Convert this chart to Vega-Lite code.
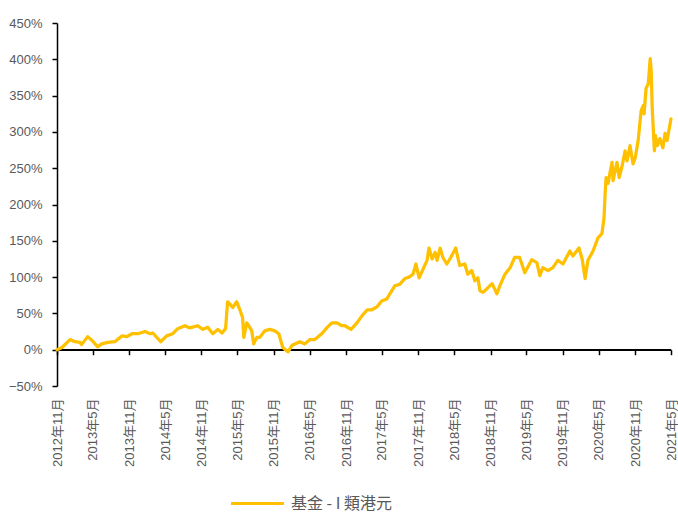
{
  "$schema": "https://vega.github.io/schema/vega-lite/v6.json",
  "autosize": {"type": "none"},
  "padding": {"left": 57, "top": 23, "right": 7, "bottom": 127},
  "width": 614,
  "height": 363,
  "background": "white",
  "config": {
    "view": {"stroke": null},
    "axisY": {
      "labelOverlap": false,
      "labelFlush": false,
      "grid": false,
      "domainColor": "black",
      "domainWidth": 1.5,
      "tickColor": "black",
      "tickWidth": 1.5,
      "tickSize": 5,
      "labelPadding": 10,
      "labelFont": "Liberation Sans",
      "labelFontSize": 13,
      "labelColor": "#595959"
    }
  },
  "data": {
    "values": [
      {"d": "2012-11-01", "v": 0.00, "s": "基金 - I 類港元"},
      {"d": "2012-11-26", "v": 0.03, "s": "基金 - I 類港元"},
      {"d": "2013-01-06", "v": 0.14, "s": "基金 - I 類港元"},
      {"d": "2013-01-30", "v": 0.11, "s": "基金 - I 類港元"},
      {"d": "2013-02-25", "v": 0.10, "s": "基金 - I 類港元"},
      {"d": "2013-03-05", "v": 0.07, "s": "基金 - I 類港元"},
      {"d": "2013-04-05", "v": 0.18, "s": "基金 - I 類港元"},
      {"d": "2013-04-30", "v": 0.12, "s": "基金 - I 類港元"},
      {"d": "2013-05-25", "v": 0.04, "s": "基金 - I 類港元"},
      {"d": "2013-06-15", "v": 0.08, "s": "基金 - I 類港元"},
      {"d": "2013-07-15", "v": 0.10, "s": "基金 - I 類港元"},
      {"d": "2013-08-20", "v": 0.11, "s": "基金 - I 類港元"},
      {"d": "2013-09-25", "v": 0.19, "s": "基金 - I 類港元"},
      {"d": "2013-10-20", "v": 0.18, "s": "基金 - I 類港元"},
      {"d": "2013-11-15", "v": 0.22, "s": "基金 - I 類港元"},
      {"d": "2013-12-15", "v": 0.22, "s": "基金 - I 類港元"},
      {"d": "2014-01-20", "v": 0.25, "s": "基金 - I 類港元"},
      {"d": "2014-02-14", "v": 0.22, "s": "基金 - I 類港元"},
      {"d": "2014-02-28", "v": 0.23, "s": "基金 - I 類港元"},
      {"d": "2014-04-09", "v": 0.11, "s": "基金 - I 類港元"},
      {"d": "2014-05-09", "v": 0.19, "s": "基金 - I 類港元"},
      {"d": "2014-06-09", "v": 0.22, "s": "基金 - I 類港元"},
      {"d": "2014-07-04", "v": 0.29, "s": "基金 - I 類港元"},
      {"d": "2014-08-09", "v": 0.33, "s": "基金 - I 類港元"},
      {"d": "2014-09-03", "v": 0.30, "s": "基金 - I 類港元"},
      {"d": "2014-10-13", "v": 0.33, "s": "基金 - I 類港元"},
      {"d": "2014-11-08", "v": 0.28, "s": "基金 - I 類港元"},
      {"d": "2014-12-03", "v": 0.31, "s": "基金 - I 類港元"},
      {"d": "2014-12-28", "v": 0.22, "s": "基金 - I 類港元"},
      {"d": "2015-01-23", "v": 0.28, "s": "基金 - I 類港元"},
      {"d": "2015-02-13", "v": 0.23, "s": "基金 - I 類港元"},
      {"d": "2015-03-03", "v": 0.29, "s": "基金 - I 類港元"},
      {"d": "2015-03-13", "v": 0.66, "s": "基金 - I 類港元"},
      {"d": "2015-03-28", "v": 0.62, "s": "基金 - I 類港元"},
      {"d": "2015-04-08", "v": 0.58, "s": "基金 - I 類港元"},
      {"d": "2015-04-28", "v": 0.66, "s": "基金 - I 類港元"},
      {"d": "2015-05-13", "v": 0.56, "s": "基金 - I 類港元"},
      {"d": "2015-05-28", "v": 0.44, "s": "基金 - I 類港元"},
      {"d": "2015-06-03", "v": 0.17, "s": "基金 - I 類港元"},
      {"d": "2015-06-18", "v": 0.37, "s": "基金 - I 類港元"},
      {"d": "2015-06-28", "v": 0.33, "s": "基金 - I 類港元"},
      {"d": "2015-07-13", "v": 0.26, "s": "基金 - I 類港元"},
      {"d": "2015-07-23", "v": 0.08, "s": "基金 - I 類港元"},
      {"d": "2015-08-08", "v": 0.17, "s": "基金 - I 類港元"},
      {"d": "2015-08-23", "v": 0.17, "s": "基金 - I 類港元"},
      {"d": "2015-09-17", "v": 0.26, "s": "基金 - I 類港元"},
      {"d": "2015-10-12", "v": 0.28, "s": "基金 - I 類港元"},
      {"d": "2015-11-07", "v": 0.26, "s": "基金 - I 類港元"},
      {"d": "2015-11-27", "v": 0.22, "s": "基金 - I 類港元"},
      {"d": "2015-12-17", "v": 0.03, "s": "基金 - I 類港元"},
      {"d": "2016-01-12", "v": -0.03, "s": "基金 - I 類港元"},
      {"d": "2016-02-02", "v": 0.06, "s": "基金 - I 類港元"},
      {"d": "2016-03-12", "v": 0.11, "s": "基金 - I 類港元"},
      {"d": "2016-04-07", "v": 0.08, "s": "基金 - I 類港元"},
      {"d": "2016-05-02", "v": 0.14, "s": "基金 - I 類港元"},
      {"d": "2016-05-27", "v": 0.14, "s": "基金 - I 類港元"},
      {"d": "2016-07-01", "v": 0.22, "s": "基金 - I 類港元"},
      {"d": "2016-07-26", "v": 0.30, "s": "基金 - I 類港元"},
      {"d": "2016-08-21", "v": 0.37, "s": "基金 - I 類港元"},
      {"d": "2016-09-16", "v": 0.37, "s": "基金 - I 類港元"},
      {"d": "2016-10-11", "v": 0.33, "s": "基金 - I 類港元"},
      {"d": "2016-10-26", "v": 0.33, "s": "基金 - I 類港元"},
      {"d": "2016-11-26", "v": 0.28, "s": "基金 - I 類港元"},
      {"d": "2016-12-26", "v": 0.37, "s": "基金 - I 類港元"},
      {"d": "2017-01-21", "v": 0.47, "s": "基金 - I 類港元"},
      {"d": "2017-02-16", "v": 0.55, "s": "基金 - I 類港元"},
      {"d": "2017-03-11", "v": 0.55, "s": "基金 - I 類港元"},
      {"d": "2017-04-06", "v": 0.59, "s": "基金 - I 類港元"},
      {"d": "2017-04-30", "v": 0.67, "s": "基金 - I 類港元"},
      {"d": "2017-05-26", "v": 0.70, "s": "基金 - I 類港元"},
      {"d": "2017-06-10", "v": 0.77, "s": "基金 - I 類港元"},
      {"d": "2017-07-05", "v": 0.88, "s": "基金 - I 類港元"},
      {"d": "2017-07-30", "v": 0.90, "s": "基金 - I 類港元"},
      {"d": "2017-08-25", "v": 0.98, "s": "基金 - I 類港元"},
      {"d": "2017-09-15", "v": 1.00, "s": "基金 - I 類港元"},
      {"d": "2017-10-05", "v": 1.04, "s": "基金 - I 類港元"},
      {"d": "2017-10-20", "v": 1.18, "s": "基金 - I 類港元"},
      {"d": "2017-11-05", "v": 0.99, "s": "基金 - I 類港元"},
      {"d": "2017-11-25", "v": 1.11, "s": "基金 - I 類港元"},
      {"d": "2017-12-15", "v": 1.23, "s": "基金 - I 類港元"},
      {"d": "2017-12-25", "v": 1.40, "s": "基金 - I 類港元"},
      {"d": "2018-01-10", "v": 1.25, "s": "基金 - I 類港元"},
      {"d": "2018-01-25", "v": 1.34, "s": "基金 - I 類港元"},
      {"d": "2018-02-04", "v": 1.23, "s": "基金 - I 類港元"},
      {"d": "2018-02-19", "v": 1.40, "s": "基金 - I 類港元"},
      {"d": "2018-03-05", "v": 1.27, "s": "基金 - I 類港元"},
      {"d": "2018-03-25", "v": 1.18, "s": "基金 - I 類港元"},
      {"d": "2018-04-14", "v": 1.27, "s": "基金 - I 類港元"},
      {"d": "2018-05-09", "v": 1.40, "s": "基金 - I 類港元"},
      {"d": "2018-05-29", "v": 1.16, "s": "基金 - I 類港元"},
      {"d": "2018-06-24", "v": 1.18, "s": "基金 - I 類港元"},
      {"d": "2018-07-09", "v": 1.04, "s": "基金 - I 類港元"},
      {"d": "2018-07-29", "v": 1.09, "s": "基金 - I 類港元"},
      {"d": "2018-08-14", "v": 0.95, "s": "基金 - I 類港元"},
      {"d": "2018-08-29", "v": 0.99, "s": "基金 - I 類港元"},
      {"d": "2018-09-09", "v": 0.81, "s": "基金 - I 類港元"},
      {"d": "2018-09-24", "v": 0.79, "s": "基金 - I 類港元"},
      {"d": "2018-10-14", "v": 0.84, "s": "基金 - I 類港元"},
      {"d": "2018-11-09", "v": 0.91, "s": "基金 - I 類港元"},
      {"d": "2018-12-03", "v": 0.77, "s": "基金 - I 類港元"},
      {"d": "2018-12-18", "v": 0.88, "s": "基金 - I 類港元"},
      {"d": "2019-01-13", "v": 1.04, "s": "基金 - I 類港元"},
      {"d": "2019-02-08", "v": 1.13, "s": "基金 - I 類港元"},
      {"d": "2019-03-03", "v": 1.27, "s": "基金 - I 類港元"},
      {"d": "2019-03-28", "v": 1.27, "s": "基金 - I 類港元"},
      {"d": "2019-04-23", "v": 1.06, "s": "基金 - I 類港元"},
      {"d": "2019-05-28", "v": 1.24, "s": "基金 - I 類港元"},
      {"d": "2019-06-23", "v": 1.20, "s": "基金 - I 類港元"},
      {"d": "2019-07-08", "v": 1.02, "s": "基金 - I 類港元"},
      {"d": "2019-07-23", "v": 1.13, "s": "基金 - I 類港元"},
      {"d": "2019-08-18", "v": 1.09, "s": "基金 - I 類港元"},
      {"d": "2019-09-12", "v": 1.13, "s": "基金 - I 類港元"},
      {"d": "2019-10-07", "v": 1.23, "s": "基金 - I 類港元"},
      {"d": "2019-11-02", "v": 1.18, "s": "基金 - I 類港元"},
      {"d": "2019-12-07", "v": 1.36, "s": "基金 - I 類港元"},
      {"d": "2019-12-22", "v": 1.29, "s": "基金 - I 類港元"},
      {"d": "2020-01-22", "v": 1.40, "s": "基金 - I 類港元"},
      {"d": "2020-02-07", "v": 1.25, "s": "基金 - I 類港元"},
      {"d": "2020-02-22", "v": 0.98, "s": "基金 - I 類港元"},
      {"d": "2020-03-07", "v": 1.23, "s": "基金 - I 類港元"},
      {"d": "2020-04-02", "v": 1.36, "s": "基金 - I 類港元"},
      {"d": "2020-04-27", "v": 1.54, "s": "基金 - I 類港元"},
      {"d": "2020-05-17", "v": 1.60, "s": "基金 - I 類港元"},
      {"d": "2020-05-27", "v": 1.80, "s": "基金 - I 類港元"},
      {"d": "2020-06-02", "v": 2.15, "s": "基金 - I 類港元"},
      {"d": "2020-06-07", "v": 2.37, "s": "基金 - I 類港元"},
      {"d": "2020-06-17", "v": 2.29, "s": "基金 - I 類港元"},
      {"d": "2020-06-27", "v": 2.44, "s": "基金 - I 類港元"},
      {"d": "2020-07-07", "v": 2.58, "s": "基金 - I 類港元"},
      {"d": "2020-07-12", "v": 2.33, "s": "基金 - I 類港元"},
      {"d": "2020-08-01", "v": 2.58, "s": "基金 - I 類港元"},
      {"d": "2020-08-12", "v": 2.37, "s": "基金 - I 類港元"},
      {"d": "2020-08-27", "v": 2.53, "s": "基金 - I 類港元"},
      {"d": "2020-09-11", "v": 2.74, "s": "基金 - I 類港元"},
      {"d": "2020-09-21", "v": 2.60, "s": "基金 - I 類港元"},
      {"d": "2020-10-06", "v": 2.81, "s": "基金 - I 類港元"},
      {"d": "2020-10-21", "v": 2.56, "s": "基金 - I 類港元"},
      {"d": "2020-11-01", "v": 2.64, "s": "基金 - I 類港元"},
      {"d": "2020-11-16", "v": 2.88, "s": "基金 - I 類港元"},
      {"d": "2020-12-01", "v": 3.29, "s": "基金 - I 類港元"},
      {"d": "2020-12-11", "v": 3.36, "s": "基金 - I 類港元"},
      {"d": "2020-12-16", "v": 3.25, "s": "基金 - I 類港元"},
      {"d": "2020-12-26", "v": 3.60, "s": "基金 - I 類港元"},
      {"d": "2021-01-06", "v": 3.66, "s": "基金 - I 類港元"},
      {"d": "2021-01-16", "v": 4.01, "s": "基金 - I 類港元"},
      {"d": "2021-01-21", "v": 3.84, "s": "基金 - I 類港元"},
      {"d": "2021-01-26", "v": 3.33, "s": "基金 - I 類港元"},
      {"d": "2021-02-06", "v": 2.74, "s": "基金 - I 類港元"},
      {"d": "2021-02-11", "v": 2.95, "s": "基金 - I 類港元"},
      {"d": "2021-02-21", "v": 2.81, "s": "基金 - I 類港元"},
      {"d": "2021-03-06", "v": 2.91, "s": "基金 - I 類港元"},
      {"d": "2021-03-21", "v": 2.78, "s": "基金 - I 類港元"},
      {"d": "2021-04-01", "v": 2.98, "s": "基金 - I 類港元"},
      {"d": "2021-04-11", "v": 2.88, "s": "基金 - I 類港元"},
      {"d": "2021-04-21", "v": 3.03, "s": "基金 - I 類港元"},
      {"d": "2021-05-01", "v": 3.18, "s": "基金 - I 類港元"}
    ]
  },
  "layer": [
    {
      "mark": {"type": "rule", "color": "black", "strokeWidth": 1.5},
      "encoding": {
        "x": {
          "datum": {"year": 2012, "month": 11, "date": 1, "utc": true},
          "type": "temporal",
          "axis": {
            "orient": "bottom",
            "offset": -36.3,
            "labels": false,
            "grid": false,
            "title": null,
            "domain": true,
            "domainColor": "black",
            "domainWidth": 1.5,
            "ticks": true,
            "tickColor": "black",
            "tickWidth": 1.5,
            "tickSize": 5,
            "values": [
              {"year": 2012, "month": 11, "date": 1, "utc": true},
              {"year": 2013, "month": 5, "date": 1, "utc": true},
              {"year": 2013, "month": 11, "date": 1, "utc": true},
              {"year": 2014, "month": 5, "date": 1, "utc": true},
              {"year": 2014, "month": 11, "date": 1, "utc": true},
              {"year": 2015, "month": 5, "date": 1, "utc": true},
              {"year": 2015, "month": 11, "date": 1, "utc": true},
              {"year": 2016, "month": 5, "date": 1, "utc": true},
              {"year": 2016, "month": 11, "date": 1, "utc": true},
              {"year": 2017, "month": 5, "date": 1, "utc": true},
              {"year": 2017, "month": 11, "date": 1, "utc": true},
              {"year": 2018, "month": 5, "date": 1, "utc": true},
              {"year": 2018, "month": 11, "date": 1, "utc": true},
              {"year": 2019, "month": 5, "date": 1, "utc": true},
              {"year": 2019, "month": 11, "date": 1, "utc": true},
              {"year": 2020, "month": 5, "date": 1, "utc": true},
              {"year": 2020, "month": 11, "date": 1, "utc": true},
              {"year": 2021, "month": 5, "date": 1, "utc": true}
            ]
          }
        },
        "x2": {"datum": {"year": 2021, "month": 5, "date": 1, "utc": true}},
        "y": {
          "datum": 0,
          "type": "quantitative",
          "axis": {
            "title": null,
            "values": [-0.5, 0, 0.5, 1, 1.5, 2, 2.5, 3, 3.5, 4, 4.5],
            "format": ".0%",
            "labelOverlap": false
          }
        }
      }
    },
    {
      "mark": {"type": "line", "strokeWidth": 3.25, "strokeJoin": "round", "strokeCap": "round"},
      "encoding": {
        "x": {
          "field": "d",
          "type": "temporal",
          "scale": {
            "type": "utc",
            "domain": [
              {"year": 2012, "month": 11, "date": 1, "utc": true},
              {"year": 2021, "month": 5, "date": 1, "utc": true}
            ]
          },
          "axis": {
            "orient": "bottom",
            "title": null,
            "grid": false,
            "domain": false,
            "ticks": false,
            "tickSize": 0,
            "labelPadding": 12,
            "labelAngle": -90,
            "labelFont": "Liberation Sans, Noto Sans CJK TC",
            "labelFontSize": 13,
            "labelColor": "#595959",
            "labelOverlap": false,
            "format": "%Y年%-m月",
            "values": [
              {"year": 2012, "month": 11, "date": 1, "utc": true},
              {"year": 2013, "month": 5, "date": 1, "utc": true},
              {"year": 2013, "month": 11, "date": 1, "utc": true},
              {"year": 2014, "month": 5, "date": 1, "utc": true},
              {"year": 2014, "month": 11, "date": 1, "utc": true},
              {"year": 2015, "month": 5, "date": 1, "utc": true},
              {"year": 2015, "month": 11, "date": 1, "utc": true},
              {"year": 2016, "month": 5, "date": 1, "utc": true},
              {"year": 2016, "month": 11, "date": 1, "utc": true},
              {"year": 2017, "month": 5, "date": 1, "utc": true},
              {"year": 2017, "month": 11, "date": 1, "utc": true},
              {"year": 2018, "month": 5, "date": 1, "utc": true},
              {"year": 2018, "month": 11, "date": 1, "utc": true},
              {"year": 2019, "month": 5, "date": 1, "utc": true},
              {"year": 2019, "month": 11, "date": 1, "utc": true},
              {"year": 2020, "month": 5, "date": 1, "utc": true},
              {"year": 2020, "month": 11, "date": 1, "utc": true},
              {"year": 2021, "month": 5, "date": 1, "utc": true}
            ]
          }
        },
        "y": {
          "field": "v",
          "type": "quantitative",
          "scale": {"domain": [-0.5, 4.5], "nice": false, "zero": false},
          "axis": {
            "title": null,
            "values": [-0.5, 0, 0.5, 1, 1.5, 2, 2.5, 3, 3.5, 4, 4.5],
            "format": ".0%",
            "labelOverlap": false
          }
        },
        "color": {
          "field": "s",
          "type": "nominal",
          "scale": {"range": ["#FFC000"]},
          "legend": {
            "title": null,
            "orient": "none",
            "legendX": 188,
            "legendY": 468,
            "padding": 0,
            "symbolType": "M-2.5,0H2.5",
            "symbolSize": 449,
            "symbolStrokeWidth": 3,
            "labelOffset": 21,
            "labelFont": "Noto Sans CJK TC",
            "labelFontSize": 16,
            "labelColor": "#595959"
          }
        }
      }
    }
  ],
  "resolve": {"axis": {"x": "independent"}}
}
